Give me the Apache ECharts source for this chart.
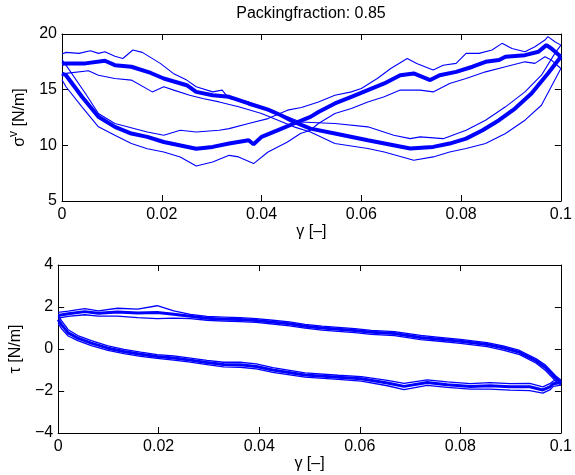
<!DOCTYPE html>
<html>
<head>
<meta charset="utf-8">
<script src="https://cdn.jsdelivr.net/npm/echarts@6/dist/echarts.min.js"></script>
<style>html,body{margin:0;padding:0;background:#fff}#c{width:575px;height:475px}</style>
</head>
<body>
<div id="c"></div>
<script>
// ---------- DATA ----------
const titleText = 'Packingfraction: 0.85';
const xTickLabels = ['0', '0.02', '0.04', '0.06', '0.08', '0.1'];
const yTopTickLabels = ['5', '10', '15', '20'];
const yBotTickLabels = ['\u22124', '\u22122', '0', '2', '4'];

// sigma^v, forward branch (gamma increasing)
const fwdMeanG = [0, 0.0008, 0.0040, 0.0073, 0.0106, 0.0139, 0.0171, 0.0204, 0.0269, 0.0302, 0.0335, 0.0374, 0.0384, 0.0400, 0.0433, 0.0465, 0.0498, 0.0514, 0.0547, 0.0580, 0.0613, 0.0646, 0.0678, 0.0705, 0.0738, 0.0757, 0.0790, 0.0823, 0.0849, 0.0876, 0.0889, 0.0928, 0.0955, 0.0971, 0.0981, 0.1];
const fwdMeanS = [16.45, 16.3, 14.36, 12.56, 11.66, 11.06, 10.76, 10.3, 9.7, 9.86, 10.16, 10.46, 10.1, 10.76, 11.36, 11.96, 12.56, 13.0, 13.76, 14.36, 14.96, 15.56, 16.3, 16.46, 15.86, 16.3, 16.6, 17.06, 17.5, 17.66, 17.96, 18.1, 18.4, 19.0, 18.7, 17.96];
const fwdHiG = [0, 0.0008, 0.0047, 0.0073, 0.0106, 0.0171, 0.0204, 0.0237, 0.0269, 0.0315, 0.0335, 0.0374, 0.0413, 0.0452, 0.0480, 0.0514, 0.0547, 0.0580, 0.0600, 0.0632, 0.0659, 0.0692, 0.0711, 0.0744, 0.0764, 0.0790, 0.0810, 0.0836, 0.0862, 0.0882, 0.0902, 0.0928, 0.0948, 0.0968, 0.0974, 0.0988, 0.1];
const fwdHiS = [17.7, 17.2, 14.66, 12.86, 11.96, 11.2, 10.9, 11.36, 11.2, 11.36, 11.5, 11.96, 12.4, 13.16, 13.4, 13.9, 14.5, 14.8, 15.1, 16.0, 16.9, 17.8, 17.36, 16.76, 17.2, 17.36, 18.26, 18.26, 18.56, 19.16, 18.7, 18.4, 18.86, 19.46, 19.76, 19.3, 19.0];
const fwdLoG = [0, 0.0008, 0.0040, 0.0073, 0.0106, 0.0139, 0.0171, 0.0204, 0.0237, 0.0269, 0.0302, 0.0335, 0.0354, 0.0384, 0.0413, 0.0452, 0.0478, 0.0498, 0.0514, 0.0547, 0.0580, 0.0613, 0.0646, 0.0678, 0.0718, 0.0744, 0.0777, 0.0810, 0.0849, 0.0889, 0.0928, 0.0948, 0.0968, 0.0981, 0.1];
const fwdLoS = [15.9, 15.26, 13.46, 11.66, 10.9, 10.16, 9.7, 9.4, 8.96, 8.15, 8.5, 9.1, 8.96, 8.36, 9.4, 10.3, 11.06, 11.36, 11.96, 12.86, 13.3, 13.9, 14.36, 14.96, 14.96, 14.8, 15.56, 16.0, 16.6, 17.06, 17.5, 17.36, 17.96, 17.66, 16.9];

// sigma^v, reverse branch (listed by gamma increasing)
const revMeanG = [0, 0.0008, 0.0047, 0.0086, 0.0106, 0.0139, 0.0178, 0.0204, 0.0250, 0.0269, 0.0302, 0.0335, 0.0374, 0.0413, 0.0439, 0.0465, 0.0498, 0.0547, 0.0613, 0.0698, 0.0744, 0.0777, 0.0810, 0.0843, 0.0876, 0.0908, 0.0941, 0.0974, 0.1];
const revMeanS = [17.3, 17.36, 17.36, 17.6, 17.2, 17.06, 16.5, 16.0, 15.4, 14.8, 14.5, 14.36, 13.76, 13.2, 12.7, 12.1, 11.5, 11.06, 10.46, 9.71, 9.86, 10.16, 10.6, 11.36, 12.26, 13.3, 14.66, 16.46, 17.96];
const revHiG = [0, 0.0008, 0.0034, 0.0057, 0.0073, 0.0086, 0.0106, 0.0122, 0.0142, 0.0161, 0.0197, 0.0223, 0.0250, 0.0269, 0.0302, 0.0321, 0.0335, 0.0374, 0.0413, 0.0452, 0.0478, 0.0547, 0.0613, 0.0665, 0.0698, 0.0718, 0.0764, 0.0810, 0.0849, 0.0889, 0.0928, 0.0961, 0.0988, 0.1];
const revHiS = [18.2, 18.35, 18.26, 18.5, 18.26, 18.4, 18.0, 17.8, 18.56, 18.35, 17.36, 16.46, 15.86, 15.26, 14.8, 14.96, 14.2, 13.9, 13.16, 12.56, 12.1, 11.96, 11.66, 10.9, 10.6, 10.76, 10.6, 11.36, 12.26, 13.46, 14.8, 16.3, 18.26, 19.0];
const revLoG = [0, 0.0008, 0.0053, 0.0073, 0.0106, 0.0139, 0.0181, 0.0204, 0.0224, 0.0256, 0.0282, 0.0315, 0.0354, 0.0400, 0.0433, 0.0465, 0.0498, 0.0547, 0.0613, 0.0646, 0.0705, 0.0744, 0.0777, 0.0810, 0.0849, 0.0889, 0.0928, 0.0961, 0.1];
const revLoS = [16.2, 16.46, 16.7, 16.3, 16.0, 15.86, 14.8, 15.26, 14.96, 14.5, 14.2, 13.9, 13.46, 12.86, 12.26, 11.66, 11.2, 10.16, 9.71, 9.4, 8.66, 8.96, 9.4, 9.71, 10.16, 11.06, 12.26, 13.6, 16.9];

// tau loop: upper branch (gamma 0 -> 0.1) then lower branch (0.1 -> 0)
const tauG = [0, 0.002, 0.0053, 0.008, 0.0118, 0.0158, 0.0197, 0.023, 0.0263, 0.0296, 0.0329, 0.0362, 0.0394, 0.0427, 0.046, 0.0491, 0.0525, 0.0557, 0.059, 0.0623, 0.0669, 0.0721, 0.0754, 0.08, 0.0853, 0.0885, 0.0918, 0.0951, 0.097, 0.099, 0.1,
              0.0985, 0.0978, 0.0964, 0.0938, 0.0899, 0.0859, 0.082, 0.0774, 0.0734, 0.0688, 0.0655, 0.0603, 0.0557, 0.0491, 0.0427, 0.0394, 0.0362, 0.0329, 0.0296, 0.0263, 0.023, 0.0197, 0.0164, 0.0131, 0.0099, 0.0066, 0.0039, 0.002, 0.0007, 0];
const tauMean = [1.6, 1.68, 1.78, 1.7, 1.76, 1.72, 1.74, 1.66, 1.56, 1.46, 1.42, 1.4, 1.36, 1.28, 1.2, 1.08, 1.0, 0.94, 0.88, 0.8, 0.74, 0.55, 0.48, 0.37, 0.21, 0.06, -0.16, -0.57, -0.9, -1.4, -1.6,
                 -1.65, -1.8, -1.95, -1.8, -1.8, -1.75, -1.78, -1.7, -1.6, -1.78, -1.62, -1.42, -1.35, -1.24, -1.0, -0.83, -0.75, -0.74, -0.64, -0.53, -0.43, -0.36, -0.25, -0.12, 0.04, 0.28, 0.52, 0.77, 1.15, 1.4];
const tauHi = [1.74, 1.8, 1.92, 1.82, 1.94, 1.9, 2.06, 1.82, 1.65, 1.55, 1.52, 1.49, 1.45, 1.37, 1.29, 1.17, 1.09, 1.03, 0.97, 0.89, 0.83, 0.65, 0.57, 0.46, 0.3, 0.15, -0.07, -0.47, -0.78, -1.28, -1.48,
               -1.52, -1.65, -1.8, -1.64, -1.65, -1.6, -1.65, -1.57, -1.47, -1.64, -1.49, -1.32, -1.25, -1.14, -0.89, -0.71, -0.63, -0.63, -0.54, -0.43, -0.33, -0.27, -0.15, -0.02, 0.15, 0.4, 0.64, 0.92, 1.34, 1.58];
const tauLo = [1.47, 1.55, 1.63, 1.57, 1.57, 1.49, 1.45, 1.47, 1.45, 1.37, 1.33, 1.3, 1.27, 1.19, 1.1, 0.99, 0.9, 0.84, 0.78, 0.7, 0.64, 0.45, 0.38, 0.27, 0.11, -0.05, -0.27, -0.68, -1.04, -1.54, -1.72,
               -1.78, -1.95, -2.1, -1.98, -1.96, -1.91, -1.91, -1.83, -1.73, -1.93, -1.75, -1.53, -1.45, -1.34, -1.11, -0.95, -0.87, -0.85, -0.74, -0.63, -0.53, -0.45, -0.35, -0.22, -0.07, 0.16, 0.4, 0.62, 0.96, 1.22];

// ---------- CHART ----------
const FONT = 'Liberation Sans, Arial, Helvetica, sans-serif';
const BLUE = '#0000ff';
const pairs = (g, v) => g.map((x, i) => [x, v[i]]);

function xAx(grid, pos, withLabels) {
  return {
    gridIndex: grid, type: 'value', position: pos, min: 0, max: 0.1, interval: 0.02,
    axisLine: { show: true, onZero: false, lineStyle: { color: '#000', width: 1 } },
    axisTick: { show: true, inside: true, length: 6, lineStyle: { color: '#000', width: 1 } },
    axisLabel: { show: withLabels, fontSize: 16, color: '#000', fontFamily: FONT, margin: 6,
      formatter: v => xTickLabels[Math.round(v / 0.02)] },
    splitLine: { show: false },
    name: withLabels ? '\u03b3 [\u2013]' : '', nameLocation: 'middle', nameGap: 21,
    nameTextStyle: { fontSize: 16, color: '#000', fontFamily: FONT }
  };
}
function yAx(grid, pos, min, max, interval, labels, withLabels, name) {
  return {
    gridIndex: grid, type: 'value', position: pos, min: min, max: max, interval: interval,
    axisLine: { show: true, onZero: false, lineStyle: { color: '#000', width: 1 } },
    axisTick: { show: true, inside: true, length: 6, lineStyle: { color: '#000', width: 1 } },
    axisLabel: { show: withLabels, fontSize: 16, color: '#000', fontFamily: FONT, margin: 5,
      formatter: v => labels[Math.round((v - min) / interval)] },
    splitLine: { show: false },
    name: withLabels ? name : '', nameLocation: 'middle', nameRotate: 90, nameGap: 30,
    nameTextStyle: { fontSize: 16, color: '#000', fontFamily: FONT,
      rich: {
        a: { fontSize: 16, color: '#000', fontFamily: FONT, lineHeight: 24 },
        b: { fontSize: 12, color: '#000', fontFamily: FONT, lineHeight: 12, verticalAlign: 'top' }
      } }
  };
}
function line(data, xi, yi, w, z) {
  return { type: 'line', data: data, xAxisIndex: xi, yAxisIndex: yi, showSymbol: false, symbol: 'none',
    lineStyle: { color: BLUE, width: w }, itemStyle: { color: BLUE }, z: z, silent: true, animation: false };
}

const chart = echarts.init(document.getElementById('c'), null, { renderer: 'canvas' });
chart.setOption({
  animation: false,
  backgroundColor: '#fff',
  title: { text: titleText, left: 311, textAlign: 'center', top: 6, padding: 0,
    textStyle: { fontSize: 16, fontWeight: 'normal', color: '#000', fontFamily: FONT } },
  grid: [
    { left: 56, right: 12, top: 34, height: 167 },
    { left: 56, right: 12, top: 265, height: 168 }
  ],
  xAxis: [xAx(0, 'bottom', true), xAx(0, 'top', false), xAx(1, 'bottom', true), xAx(1, 'top', false)],
  yAxis: [
    yAx(0, 'left', 5, 20, 5, yTopTickLabels, true, '{a|\u03c3}{b|v}{a| [N/m]}'),
    yAx(0, 'right', 5, 20, 5, yTopTickLabels, false, ''),
    yAx(1, 'left', -4, 4, 2, yBotTickLabels, true, '{a|\u03c4 [N/m]}'),
    yAx(1, 'right', -4, 4, 2, yBotTickLabels, false, '')
  ],
  series: [
    line(pairs(fwdHiG, fwdHiS), 0, 0, 1.1, 2),
    line(pairs(fwdLoG, fwdLoS), 0, 0, 1.1, 2),
    line(pairs(revHiG, revHiS), 0, 0, 1.1, 2),
    line(pairs(revLoG, revLoS), 0, 0, 1.1, 2),
    line(pairs(fwdMeanG, fwdMeanS), 0, 0, 4, 3),
    line(pairs(revMeanG, revMeanS), 0, 0, 4, 3),
    line(pairs(tauG, tauHi), 2, 2, 1.3, 2),
    line(pairs(tauG, tauLo), 2, 2, 1.3, 2),
    line(pairs(tauG, tauMean), 2, 2, 3, 3)
  ]
});
</script>
</body>
</html>
